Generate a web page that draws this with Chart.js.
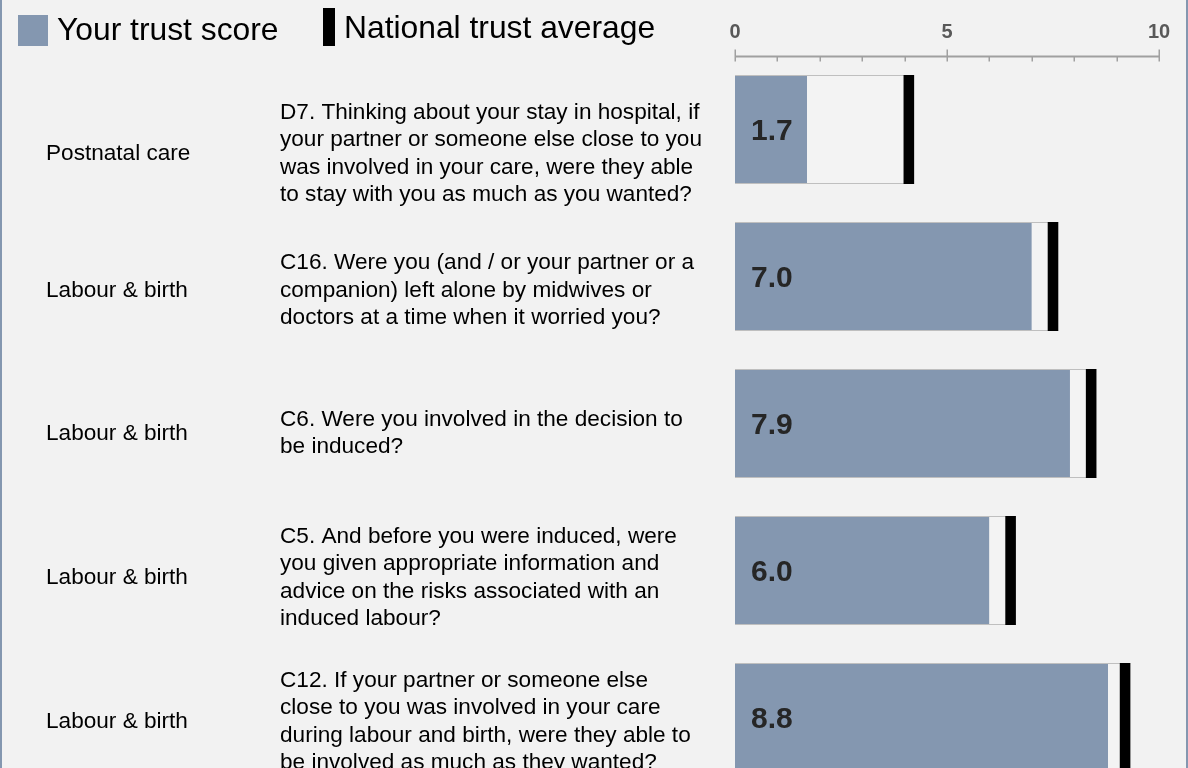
<!DOCTYPE html>
<html>
<head>
<meta charset="utf-8">
<script src="https://cdn.jsdelivr.net/npm/chart.js@4/dist/chart.umd.min.js"></script>
<style>
  html, body { margin: 0; padding: 0; background: #F2F2F2; overflow: hidden; }
  #chart-wrap { position: relative; width: 1188px; height: 791px; }
</style>
</head>
<body>
<div id="chart-wrap"><canvas id="trust-chart"></canvas></div>
<script>
// Question ids (one row each)
const questionIds = ['D7', 'C16', 'C6', 'C5', 'C12'];

const sections = ['Postnatal care', 'Labour & birth', 'Labour & birth', 'Labour & birth', 'Labour & birth'];

const questionLines = [
  ['D7. Thinking about your stay in hospital, if', 'your partner or someone else close to you', 'was involved in your care, were they able', 'to stay with you as much as you wanted?'],
  ['C16. Were you (and / or your partner or a', 'companion) left alone by midwives or', 'doctors at a time when it worried you?'],
  ['C6. Were you involved in the decision to', 'be induced?'],
  ['C5. And before you were induced, were', 'you given appropriate information and', 'advice on the risks associated with an', 'induced labour?'],
  ['C12. If your partner or someone else', 'close to you was involved in your care', 'during labour and birth, were they able to', 'be involved as much as they wanted?']
];

const trustScores = [1.7, 7.0, 7.9, 6.0, 8.8];
const nationalAverage = [4.1, 7.5, 8.4, 6.5, 9.2];

const scaleMin = 0;
const scaleMax = 10;

class TrustScoreChart {
  constructor() {
    this.font = "'Liberation Sans', Arial, sans-serif";
    this.colors = {
      page: '#F2F2F2',
      frame: '#8497B0',
      score: '#8497B0',
      average: '#000000',
      box: '#F3F3F3',
      boxBorder: '#BFBFBF',
      axis: '#A0A0A0',
      text: '#000000',
      value: '#262626'
    };
    this.markerHalf = 0.125;                  // half width of the national average marker
    this.textNudge = [24.5, 14, 10, 7.5, 4.5]; // text rows sit a little lower than the bars

    this.init();
  }

  init() {
    const ctx = document.getElementById('trust-chart');
    this.chart = new Chart(ctx, {
      type: 'bar',
      data: this.buildData(),
      options: this.buildOptions(),
      plugins: [this.pagePlugin(), this.axisPlugin(), this.textPlugin()]
    });
  }

  buildData() {
    const c = this.colors;
    return {
      labels: questionIds,
      datasets: [
        {
          label: 'National trust average',
          data: nationalAverage.map(v => [v - this.markerHalf, v + this.markerHalf]),
          backgroundColor: c.average,
          borderWidth: 0,
          order: 0
        },
        {
          label: 'Your trust score',
          data: trustScores,
          backgroundColor: c.score,
          borderColor: c.boxBorder,
          borderWidth: { top: 1, bottom: 1, left: 0, right: 0 },
          borderSkipped: false,
          order: 1
        },
        {
          label: '',
          data: nationalAverage.map(v => [scaleMin, v + this.markerHalf]),
          backgroundColor: c.box,
          borderColor: c.boxBorder,
          borderWidth: { top: 1, bottom: 1, left: 0, right: 0 },
          borderSkipped: false,
          order: 2
        }
      ]
    };
  }

  buildOptions() {
    return {
      indexAxis: 'y',
      responsive: true,
      maintainAspectRatio: false,
      animation: false,
      layout: { padding: { left: 735, right: 29, top: 8, bottom: 0 } },
      datasets: {
        bar: { grouped: false, barPercentage: 0.742, categoryPercentage: 1 }
      },
      scales: {
        x: {
          position: 'top',
          min: scaleMin,
          max: scaleMax,
          grid: { display: false, drawTicks: false },
          border: { display: false },
          ticks: {
            stepSize: 5,
            padding: 12,
            color: '#595959',
            font: { family: this.font, size: 20, weight: 'bold' }
          }
        },
        y: { display: false }
      },
      plugins: {
        legend: { display: false },
        tooltip: { enabled: false }
      }
    };
  }

  pagePlugin() {
    const c = this.colors;
    return {
      id: 'page',
      beforeDraw(chart) {
        const { ctx, width, height } = chart;
        ctx.save();
        ctx.fillStyle = c.page;
        ctx.fillRect(0, 0, width, height);
        ctx.fillStyle = c.frame;
        ctx.fillRect(0, 0, 2, height);
        ctx.fillRect(width - 2, 0, 2, height);
        ctx.restore();
      }
    };
  }

  axisPlugin() {
    const c = this.colors;
    return {
      id: 'axisLine',
      afterDraw(chart) {
        const { ctx, chartArea } = chart;
        const x = chart.scales.x;
        const y0 = chartArea.top + 0.5;
        ctx.save();
        ctx.strokeStyle = c.axis;
        ctx.lineWidth = 2;
        ctx.beginPath();
        ctx.moveTo(x.getPixelForValue(scaleMin), y0);
        ctx.lineTo(x.getPixelForValue(scaleMax), y0);
        ctx.stroke();
        ctx.lineWidth = 1.5;
        for (let v = scaleMin; v <= scaleMax; v++) {
          const px = Math.round(x.getPixelForValue(v)) + 0.25;
          const major = v % 5 === 0;
          ctx.beginPath();
          ctx.moveTo(px, major ? y0 - 7 : y0);
          ctx.lineTo(px, y0 + 5);
          ctx.stroke();
        }
        ctx.restore();
      }
    };
  }

  textPlugin() {
    const self = this;
    const c = this.colors;
    return {
      id: 'rowText',
      afterDraw(chart) {
        const { ctx } = chart;
        const x = chart.scales.x;
        const y = chart.scales.y;
        ctx.save();

        // legend
        const scoreSet = chart.data.datasets[1];
        const avgSet = chart.data.datasets[0];
        ctx.textBaseline = 'middle';
        ctx.textAlign = 'left';
        ctx.font = `31.8px ${self.font}`;
        ctx.fillStyle = scoreSet.backgroundColor;
        ctx.fillRect(18, 15, 30, 31);
        ctx.fillStyle = c.text;
        ctx.fillText(scoreSet.label, 57, 31);
        ctx.fillStyle = avgSet.backgroundColor;
        ctx.fillRect(323, 8, 12, 38);
        ctx.fillStyle = c.text;
        ctx.fillText(avgSet.label, 344, 29);

        // section names, question text and score values
        const lineHeight = 27.5;
        questionIds.forEach((id, i) => {
          const cy = y.getPixelForValue(i);
          const ty = cy + self.textNudge[i];
          ctx.font = `22.6px ${self.font}`;
          ctx.fillStyle = c.text;
          ctx.fillText(sections[i], 46, ty);
          const lines = questionLines[i];
          const top = ty - (lines.length - 1) * lineHeight / 2;
          lines.forEach((line, j) => ctx.fillText(line, 280, top + j * lineHeight));

          ctx.font = `bold 30px ${self.font}`;
          ctx.fillStyle = c.value;
          ctx.fillText(trustScores[i].toFixed(1), x.getPixelForValue(scaleMin) + 16, cy + 2);
        });
        ctx.restore();
      }
    };
  }
}

const trustChart = new TrustScoreChart();
</script>
</body>
</html>
